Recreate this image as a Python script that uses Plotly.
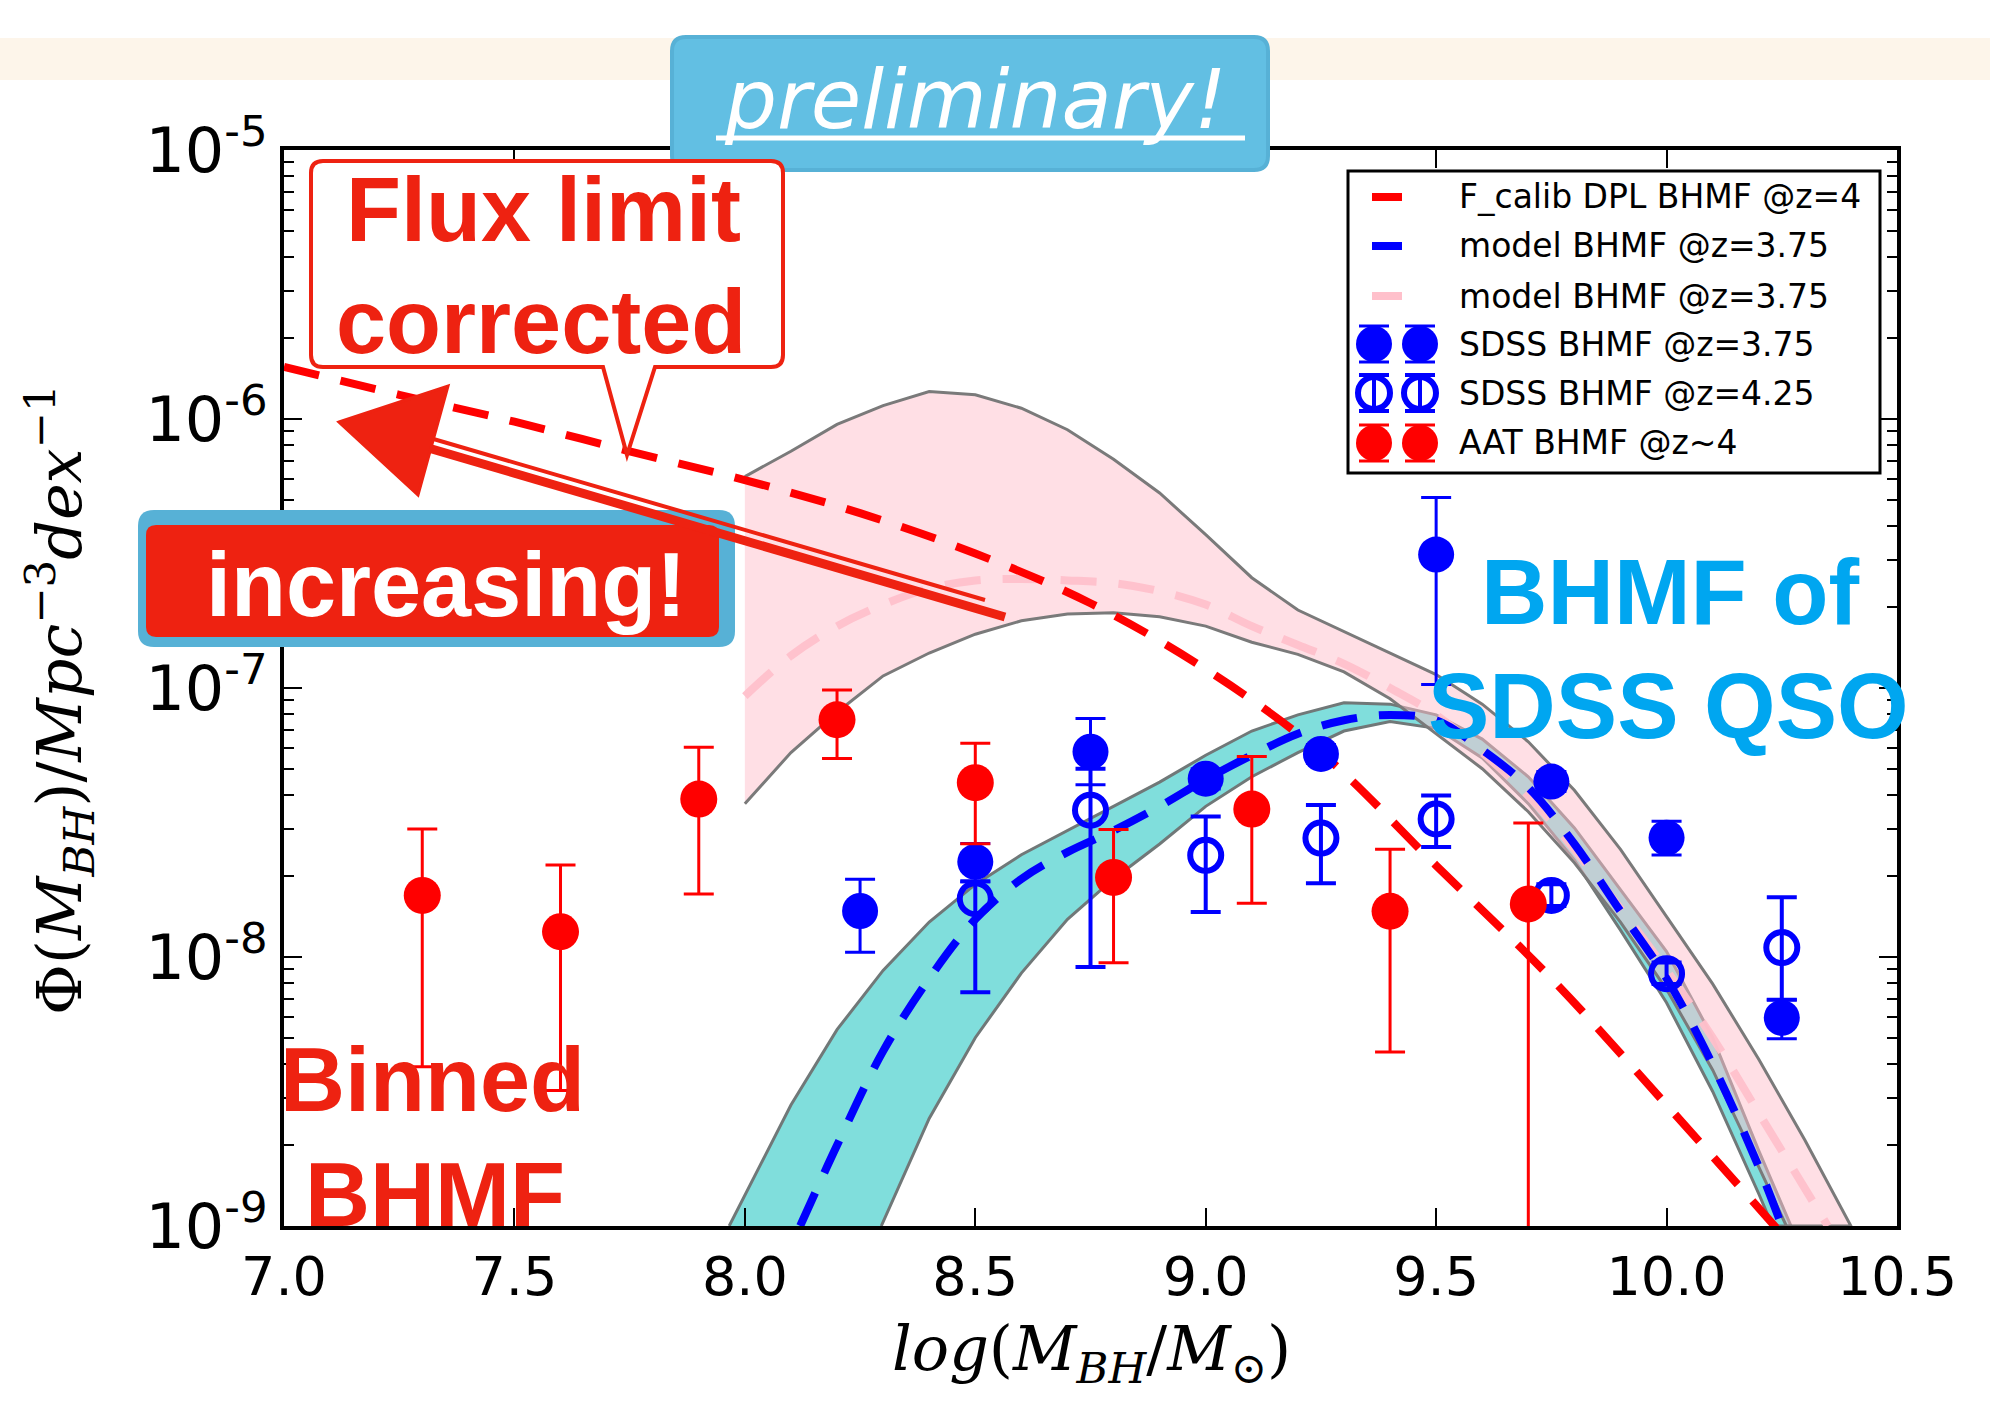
import numpy as np
import plotly.graph_objects as go

# ---------------- data (log10 values) ----------------
aat_x = [7.3, 7.6, 7.9, 8.2, 8.5, 8.8, 9.1, 9.4, 9.7]
aat_log = [-7.771, -7.906, -7.413, -7.118, -7.352, -7.704, -7.450, -7.830, -7.803]
aat_up = [-7.524, -7.658, -7.220, -7.007, -7.205, -7.526, -7.255, -7.599, -7.502]
aat_lo = [-8.408, -8.496, -7.766, -7.262, -7.579, -8.021, -7.800, -8.353, -10.0]

sdss375_x = [8.25, 8.5, 8.75, 9.0, 9.25, 9.5, 9.75, 10.0, 10.25]
sdss375_log = [-7.829, -7.646, -7.237, -7.337, -7.245, -6.504, -7.348, -7.557, -8.226]
sdss375_up = [-7.711, -7.578, -7.113, -7.300, -7.210, -6.292, -7.310, -7.495, -8.159]
sdss375_lo = [-7.982, -7.720, -7.360, -7.375, -7.280, -6.987, -7.385, -7.621, -8.304]

sdss425_x = [8.5, 8.75, 9.0, 9.25, 9.5, 9.75, 10.0, 10.25]
sdss425_log = [-7.783, -7.454, -7.622, -7.558, -7.487, -7.771, -8.062, -7.965]
sdss425_up = [-7.718, -7.300, -7.478, -7.435, -7.400, -7.730, -8.020, -7.778]
sdss425_lo = [-8.131, -8.037, -7.833, -7.726, -7.591, -7.810, -8.100, -8.159]

dpl_x = [7.0, 7.25, 7.5, 7.75, 8.0, 8.25, 8.5, 8.75, 9.0, 9.25, 9.5, 9.75, 10.0, 10.25]
dpl_log = [-5.806, -5.91, -6.01, -6.12, -6.227, -6.35, -6.50, -6.685, -6.93, -7.24, -7.66, -8.08, -8.55, -9.03]

model_x = [8.12, 8.2, 8.3, 8.4, 8.5, 8.6, 8.7, 8.8, 8.9, 9.0, 9.1, 9.2, 9.3, 9.4,
           9.5, 9.6, 9.7, 9.8, 9.9, 10.0, 10.1, 10.2, 10.25]
model_log = [-9.0, -8.70, -8.35, -8.08, -7.86, -7.71, -7.61, -7.53, -7.44, -7.34, -7.25,
             -7.17, -7.12, -7.10, -7.12, -7.23, -7.37, -7.58, -7.83, -8.08, -8.40, -8.78, -9.0]

cyan_up_x = [7.966, 8.05, 8.1, 8.2, 8.3, 8.4, 8.5, 8.6, 8.7, 8.8, 8.9, 9.0, 9.1, 9.2, 9.3,
             9.4, 9.5, 9.6, 9.7, 9.8, 9.9, 10.0, 10.1, 10.2, 10.27]
cyan_up_log = [-9.0, -8.72, -8.55, -8.27, -8.05, -7.87, -7.73, -7.62, -7.53, -7.44, -7.35,
               -7.25, -7.16, -7.10, -7.055, -7.06, -7.10, -7.19, -7.33, -7.52, -7.75, -7.98,
               -8.30, -8.72, -9.0]
cyan_lo_x = [8.296, 8.4, 8.5, 8.6, 8.7, 8.8, 8.9, 9.0, 9.1, 9.2, 9.3, 9.4, 9.5, 9.6, 9.7,
             9.8, 9.9, 10.0, 10.1, 10.2, 10.23]
cyan_lo_log = [-9.0, -8.60, -8.30, -8.06, -7.86, -7.71, -7.58, -7.44, -7.33, -7.24, -7.16,
               -7.125, -7.15, -7.26, -7.43, -7.64, -7.90, -8.17, -8.50, -8.88, -9.0]

pink_x = [8.0, 8.1, 8.2, 8.3, 8.4, 8.5, 8.6, 8.7, 8.8, 8.9, 9.0, 9.1, 9.2, 9.3, 9.4,
          9.5, 9.6, 9.7, 9.8, 9.9, 10.0, 10.1, 10.2, 10.3, 10.35]
pink_log = [-7.03, -6.88, -6.77, -6.69, -6.63, -6.60, -6.595, -6.60, -6.61, -6.64, -6.69,
            -6.77, -6.84, -6.91, -7.00, -7.10, -7.24, -7.40, -7.60, -7.82, -8.05, -8.30,
            -8.58, -8.86, -9.0]
pink_up_x = [8.0, 8.1, 8.2, 8.3, 8.4, 8.5, 8.6, 8.7, 8.8, 8.9, 9.0, 9.1, 9.2, 9.3, 9.4,
             9.5, 9.6, 9.7, 9.8, 9.9, 10.0, 10.1, 10.2, 10.3, 10.4]
pink_up_log = [-6.214, -6.12, -6.02, -5.95, -5.898, -5.91, -5.96, -6.04, -6.15, -6.275,
               -6.43, -6.59, -6.71, -6.79, -6.87, -6.95, -7.06, -7.20, -7.38, -7.60, -7.85,
               -8.10, -8.38, -8.68, -9.0]
pink_lo_x = [8.0, 8.1, 8.2, 8.3, 8.4, 8.5, 8.6, 8.7, 8.8, 8.9, 9.0, 9.1, 9.2, 9.3, 9.4,
             9.5, 9.6, 9.7, 9.8, 9.9, 10.0, 10.1, 10.2, 10.26]
pink_lo_log = [-7.43, -7.24, -7.09, -6.955, -6.87, -6.80, -6.75, -6.725, -6.72, -6.735,
               -6.77, -6.83, -6.875, -6.94, -7.04, -7.17, -7.30, -7.46, -7.65, -7.87, -8.12,
               -8.42, -8.78, -9.0]

x_ticks = [7.0, 7.5, 8.0, 8.5, 9.0, 9.5, 10.0, 10.5]
x_ticktext = ["7.0", "7.5", "8.0", "8.5", "9.0", "9.5", "10.0", "10.5"]
y_exps = [-9, -8, -7, -6, -5]

legend_labels = ["F_calib DPL BHMF @z=4", "model BHMF @z=3.75", "model BHMF @z=3.75",
                 "SDSS BHMF @z=3.75", "SDSS BHMF @z=4.25", "AAT BHMF @z~4"]

# ---------------- helpers ----------------
P = lambda a: np.power(10.0, np.array(a, dtype=float))

RED = "#ff0000"
BLUE = "#0000ff"
ANN_RED = "#ee2211"
SKY = "#62bfe3"
SKY_EDGE = "#57b1d6"

L, R, T, B = 284, 1897, 150, 1226
W, H = R - L, B - T
px = lambda x: (x - L) / W
py = lambda y: (B - y) / H


def pt(x, y):
    return f"{px(x):.5f},{py(y):.5f}"


def rrect(x0, y0, x1, y1, r):
    return (f"M {pt(x0 + r, y0)} L {pt(x1 - r, y0)} Q {pt(x1, y0)} {pt(x1, y0 + r)} "
            f"L {pt(x1, y1 - r)} Q {pt(x1, y1)} {pt(x1 - r, y1)} L {pt(x0 + r, y1)} "
            f"Q {pt(x0, y1)} {pt(x0, y1 - r)} L {pt(x0, y0 + r)} Q {pt(x0, y0)} {pt(x0 + r, y0)} Z")


def label(xp, yp, text, size, color, family="Liberation Sans", xanchor="center", **kw):
    return dict(x=px(xp), y=py(yp), xref="paper", yref="paper", text=text, showarrow=False,
                xanchor=xanchor, yanchor="middle", font=dict(family=family, size=size, color=color), **kw)


fig = go.Figure()

# bands
cx = cyan_up_x + cyan_lo_x[::-1]
cy = cyan_up_log + cyan_lo_log[::-1]
fig.add_trace(go.Scatter(x=cx, y=P(cy), mode="lines", fill="toself",
                         fillcolor="rgb(128,222,220)", line=dict(color="#707878", width=3),
                         hoverinfo="skip", showlegend=False))
pxs = pink_up_x + pink_lo_x[::-1]
pys = pink_up_log + pink_lo_log[::-1]
fig.add_trace(go.Scatter(x=pxs, y=P(pys), mode="lines", fill="toself",
                         fillcolor="rgba(255,192,203,0.5)", line=dict(color="#7a7a7a", width=3),
                         hoverinfo="skip", showlegend=False))

# model lines
DASH = "36px,22px"
fig.add_trace(go.Scatter(x=pink_x, y=P(pink_log), mode="lines",
                         line=dict(color="rgba(255,192,203,0.95)", width=8, dash=DASH, shape="spline"),
                         showlegend=False))
fig.add_trace(go.Scatter(x=dpl_x, y=P(dpl_log), mode="lines",
                         line=dict(color=RED, width=8, dash=DASH, shape="spline"),
                         showlegend=False))
fig.add_trace(go.Scatter(x=model_x, y=P(model_log), mode="lines",
                         line=dict(color=BLUE, width=8, dash=DASH, shape="spline"),
                         showlegend=False))


def err(vals, up, lo):
    v = P(vals)
    return dict(type="data", symmetric=False, array=P(up) - v, arrayminus=v - P(lo))


e = err(sdss375_log, sdss375_up, sdss375_lo)
fig.add_trace(go.Scatter(x=sdss375_x, y=P(sdss375_log), mode="markers",
                         marker=dict(color=BLUE, size=36, line=dict(width=0)),
                         error_y=dict(**e, color=BLUE, thickness=3, width=15), showlegend=False))
e = err(sdss425_log, sdss425_up, sdss425_lo)
fig.add_trace(go.Scatter(x=sdss425_x, y=P(sdss425_log), mode="markers",
                         marker=dict(color=BLUE, size=31, symbol="circle-open", line=dict(width=6, color=BLUE)),
                         error_y=dict(**e, color=BLUE, thickness=4, width=15), showlegend=False))
e = err(aat_log, aat_up, aat_lo)
fig.add_trace(go.Scatter(x=aat_x, y=P(aat_log), mode="markers",
                         marker=dict(color=RED, size=37, line=dict(width=0)),
                         error_y=dict(**e, color=RED, thickness=3, width=15), showlegend=False))

shapes = []
ann = []

# top beige band and preliminary badge
shapes.append(dict(type="rect", xref="paper", yref="paper", x0=px(0), x1=px(1990), y0=py(80), y1=py(38),
                   fillcolor="#fdf5ea", line=dict(width=0), layer="below"))
shapes.append(dict(type="path", xref="paper", yref="paper", path=rrect(672, 37, 1268, 170, 14),
                   fillcolor=SKY, line=dict(color=SKY_EDGE, width=4), layer="above"))
shapes.append(dict(type="line", xref="paper", yref="paper", x0=px(716), x1=px(1245), y0=py(138), y1=py(138),
                   line=dict(color="white", width=5), layer="above"))
ann.append(dict(x=px(975), y=py(100), xref="paper", yref="paper", text="preliminary!", showarrow=False,
                font=dict(family="DejaVu Sans", size=82, color="white", style="italic"),
                xanchor="center", yanchor="middle"))

# legend box (manual)
shapes.append(dict(type="rect", xref="paper", yref="paper", x0=px(1348), x1=px(1880), y0=py(473), y1=py(171),
                   fillcolor="white", line=dict(color="black", width=3), layer="above"))
rows = [197, 246, 296, 344, 393, 443]
line_cols = [RED, BLUE, "pink"]
for i in range(3):
    shapes.append(dict(type="line", xref="paper", yref="paper", x0=px(1372), x1=px(1402),
                       y0=py(rows[i]), y1=py(rows[i]), line=dict(color=line_cols[i], width=8), layer="above"))
for i, (col, opn) in enumerate([(BLUE, False), (BLUE, True), (RED, False)]):
    yy = rows[3 + i]
    for xx in (1374, 1420):
        shapes.append(dict(type="line", xref="paper", yref="paper", x0=px(xx), x1=px(xx),
                           y0=py(yy - 18), y1=py(yy + 18), line=dict(color=col, width=4), layer="above"))
        for yc in (yy - 18, yy + 18):
            shapes.append(dict(type="line", xref="paper", yref="paper", x0=px(xx - 15), x1=px(xx + 15),
                               y0=py(yc), y1=py(yc), line=dict(color=col, width=4 if opn else 3), layer="above"))
        if opn:
            shapes.append(dict(type="circle", xref="paper", yref="paper", xsizemode="pixel", ysizemode="pixel",
                               xanchor=px(xx), yanchor=py(yy), x0=-16, x1=16, y0=-16, y1=16,
                               fillcolor="rgba(0,0,0,0)", line=dict(color=col, width=6), layer="above"))
        else:
            shapes.append(dict(type="circle", xref="paper", yref="paper", xsizemode="pixel", ysizemode="pixel",
                               xanchor=px(xx), yanchor=py(yy), x0=-18, x1=18, y0=-18, y1=18,
                               fillcolor=col, line=dict(color=col, width=0), layer="above"))
for i, lab in enumerate(legend_labels):
    ann.append(label(1457, rows[i], lab, 33, "black", family="DejaVu Sans", xanchor="left"))

# "Flux limit corrected" callout
x0, y0, x1, y1, r = 311, 161, 783, 367, 12
callout = (f"M {pt(x0 + r, y0)} L {pt(x1 - r, y0)} Q {pt(x1, y0)} {pt(x1, y0 + r)} "
           f"L {pt(x1, y1 - r)} Q {pt(x1, y1)} {pt(x1 - r, y1)} L {pt(655, y1)} L {pt(627, 455)} "
           f"L {pt(603, y1)} L {pt(x0 + r, y1)} Q {pt(x0, y1)} {pt(x0, y1 - r)} L {pt(x0, y0 + r)} "
           f"Q {pt(x0, y0)} {pt(x0 + r, y0)} Z")
shapes.append(dict(type="path", xref="paper", yref="paper", path=callout, fillcolor="white",
                   line=dict(color=ANN_RED, width=4), layer="above"))
ann.append(label(543, 210, "<b>Flux limit</b>", 90, ANN_RED))
ann.append(label(541, 322, "<b>corrected</b>", 90, ANN_RED))

# "increasing!" badge
shapes.append(dict(type="path", xref="paper", yref="paper", path=rrect(138, 510, 735, 647, 16),
                   fillcolor=SKY_EDGE, line=dict(width=0), layer="above"))
shapes.append(dict(type="path", xref="paper", yref="paper", path=rrect(146, 525, 719, 637, 10),
                   fillcolor=ANN_RED, line=dict(width=0), layer="above"))
ann.append(label(446, 585, "<b>increasing!</b>", 90, "white"))

# hand drawn arrow
shapes.append(dict(type="line", xref="paper", yref="paper", x0=px(1005), y0=py(617), x1=px(425), y1=py(447),
                   line=dict(color=ANN_RED, width=9), layer="above"))
shapes.append(dict(type="line", xref="paper", yref="paper", x0=px(985), y0=py(600), x1=px(430), y1=py(438),
                   line=dict(color=ANN_RED, width=4), layer="above"))
shapes.append(dict(type="path", xref="paper", yref="paper",
                   path=f"M {pt(339, 422)} L {pt(448, 386)} L {pt(418, 495)} Z",
                   fillcolor=ANN_RED, line=dict(color=ANN_RED, width=3), layer="above"))

# big labels
ann.append(label(1670, 592, "<b>BHMF of</b>", 92, "#00a6f0"))
ann.append(label(1668, 706, "<b>SDSS QSO</b>", 92, "#00a6f0"))
ann.append(label(432, 1080, "<b>Binned</b>", 90, ANN_RED))
ann.append(label(435, 1195, "<b>BHMF</b>", 90, ANN_RED))

# axis titles
ann.append(label(60, 700, "Φ(<i>M</i><sub><i>BH</i></sub>)/<i>Mpc</i><sup>−3</sup><i>dex</i><sup>−1</sup>",
                 62, "black", family="DejaVu Serif", textangle=-90))
ann.append(label(1091, 1352, "<i>log</i>(<i>M</i><sub><i>BH</i></sub>/<i>M</i><sub>⊙</sub>)",
                 62, "black", family="DejaVu Serif"))

minor_vals = [k * 10.0 ** ex for ex in range(-9, -5) for k in range(2, 10)]

fig.update_layout(
    width=1990, height=1403,
    margin=dict(l=L, r=1990 - R, t=T, b=1403 - B),
    paper_bgcolor="white", plot_bgcolor="white",
    showlegend=False,
    shapes=shapes, annotations=ann,
    font=dict(family="DejaVu Sans", color="black"),
)
fig.update_xaxes(range=[7.0, 10.5], tickvals=x_ticks, ticktext=x_ticktext, showgrid=False, zeroline=False,
                 showline=True, linecolor="black", linewidth=4, mirror="ticks", ticks="inside",
                 ticklen=18, tickwidth=2, tickcolor="black", tickfont=dict(size=54, family="DejaVu Sans"))
fig.update_yaxes(type="log", range=[-9, -5], tickvals=[10.0 ** ex for ex in y_exps],
                 ticktext=[f"10<sup>{ex}</sup>" for ex in y_exps], showgrid=False, zeroline=False,
                 showline=True, linecolor="black", linewidth=4, mirror="ticks", ticks="inside",
                 ticklen=18, tickwidth=2, tickcolor="black", tickfont=dict(size=62, family="DejaVu Sans"),
                 minor=dict(tickvals=minor_vals, ticks="inside", ticklen=10, tickwidth=2, tickcolor="black",
                            showgrid=False))

fig.write_html("out.html")
